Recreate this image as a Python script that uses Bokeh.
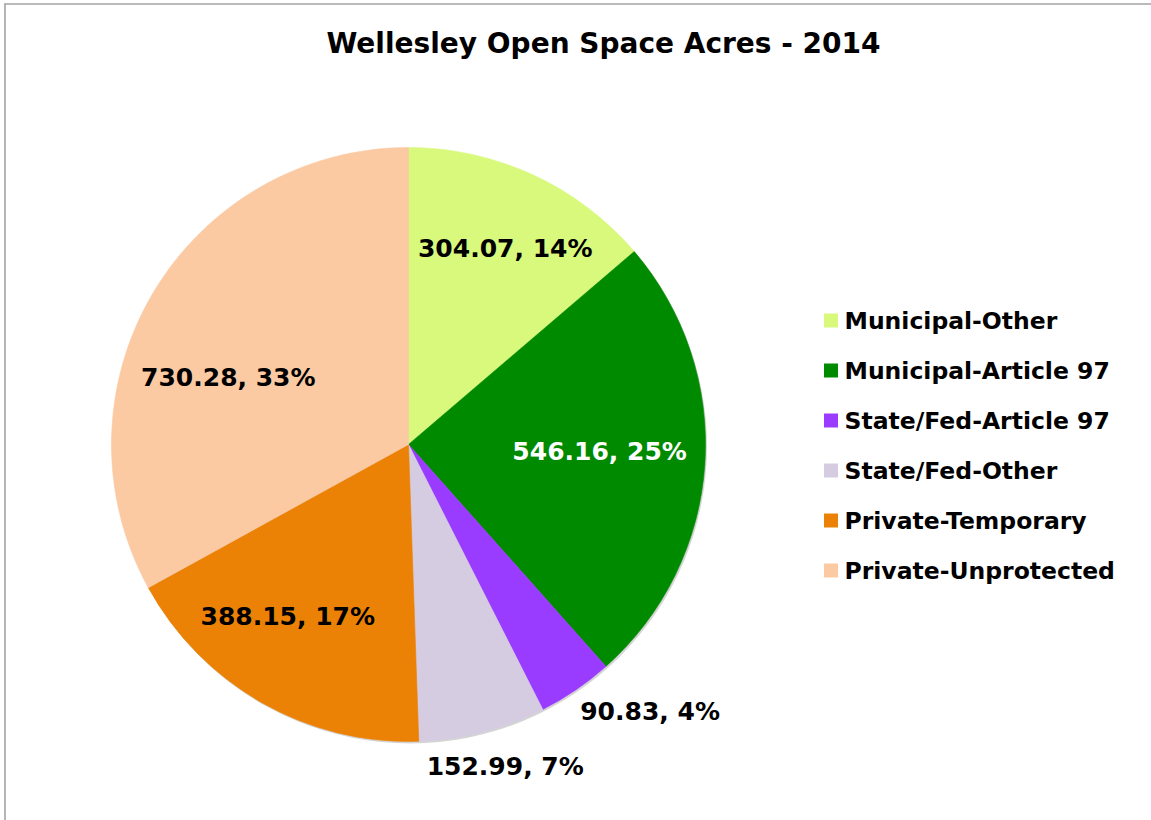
import math
from bokeh.plotting import figure
from bokeh.models import Range1d
from bokeh.core.properties import value
from bokeh.embed import file_html
from bokeh.resources import INLINE

# ---------------- data ----------------
title = "Wellesley Open Space Acres - 2014"
categories = ["Municipal-Other", "Municipal-Article 97", "State/Fed-Article 97",
              "State/Fed-Other", "Private-Temporary", "Private-Unprotected"]
acres = [304.07, 546.16, 90.83, 152.99, 388.15, 730.28]
pct_labels = [14, 25, 4, 7, 17, 33]
colors = ["#d8f97c", "#008a00", "#9a3cff", "#d5cce2", "#ec8205", "#fbcaa2"]

# ---------------- layout (page pixels) ----------------
W, H = 1151, 820
OX, OY = 0, 0          # page position of the figure
CX, CY, R = 408, 444, 297
FONT = value("DejaVu Sans")

label_r = [0.73, 0.645, 1.05, 1.05, 0.707, 0.65]
label_off = [(6, 1), (0, -6), (66, 9), (19, 20), (-17, -11), (-14, 31)]
label_color = ["black", "white", "black", "black", "black", "black"]


def X(px):
    return px - OX


def Y(py):
    return H - (py - OY)


p = figure(width=W, height=H, x_range=Range1d(0, W), y_range=Range1d(0, H),
           output_backend="svg", toolbar_location=None, min_border=0,
           x_axis_location=None, y_axis_location=None,
           outline_line_color=None, background_fill_color="white",
           border_fill_color="white")
p.grid.visible = False

# border (top and left edges visible)
p.segment(x0=[X(4), X(4.5)], y0=[Y(3.5), Y(3)], x1=[X(1160), X(4.5)], y1=[Y(3.5), Y(830)],
          line_color="#a3a3a3", line_width=1.6)

# title
p.text(x=[X(603)], y=[Y(43)], text=[title], text_font=FONT, text_font_style="bold",
       text_font_size="28px", text_align="center", text_baseline="middle",
       text_color="black")

# pie shadow
p.circle(x=[X(CX + 1.5)], y=[Y(CY + 2)], radius=R, fill_color="#b0b0b0",
         fill_alpha=0.55, line_color=None)

total = sum(acres)
cum = [0.0]
for a in acres:
    cum.append(cum[-1] + a / total)

starts = [math.pi / 2 - 2 * math.pi * c for c in cum[:-1]]
ends = [math.pi / 2 - 2 * math.pi * c for c in cum[1:]]

p.wedge(x=[X(CX)] * len(acres), y=[Y(CY)] * len(acres), radius=R,
        start_angle=starts, end_angle=ends, direction="clock",
        fill_color=colors, line_color=colors, line_width=0.6)

# data labels
lx, ly, ltxt = [], [], []
for i, a in enumerate(acres):
    mid = 2 * math.pi * (cum[i] + cum[i + 1]) / 2   # clockwise from top
    rr = label_r[i] * R
    px = CX + rr * math.sin(mid) + label_off[i][0]
    py = CY - rr * math.cos(mid) + label_off[i][1]
    lx.append(X(px))
    ly.append(Y(py))
    ltxt.append(f"{a:.2f}, {pct_labels[i]}%")

p.text(x=lx, y=ly, text=ltxt, text_font=FONT, text_font_style="bold",
       text_font_size="25px", text_align="center", text_baseline="middle",
       text_color=label_color)

# legend
row0, step = 320, 50
sq_x, sq = 830.5, 14
txt_x = 844
ys = [Y(row0 + i * step) for i in range(len(categories))]
p.rect(x=[X(sq_x)] * len(categories), y=ys, width=sq, height=sq,
       fill_color=colors, line_color=None)
p.text(x=[X(txt_x)] * len(categories), y=ys, text=categories, text_font=FONT,
       text_font_style="bold", text_font_size="23.5px", text_align="left",
       text_baseline="middle", text_color="black")

open("out.html", "w").write(file_html(p, INLINE))
